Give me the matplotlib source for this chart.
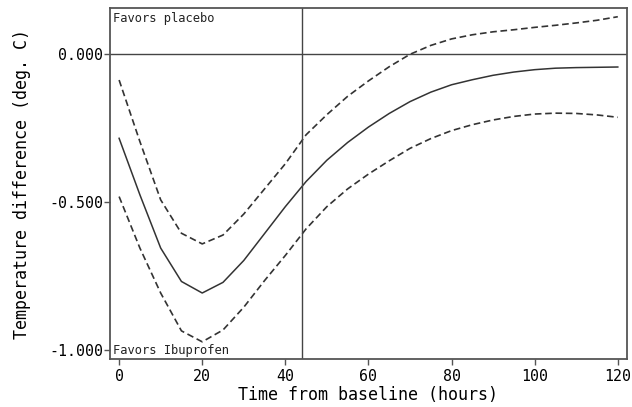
import matplotlib
matplotlib.use("Agg")
import matplotlib.pyplot as plt

hours = [0, 5, 10, 15, 20, 25, 30, 35, 40, 45, 50, 55, 60, 65, 70, 75, 80,
         85, 90, 95, 100, 105, 110, 115, 120]
estimate = [-0.284, -0.475, -0.655, -0.768, -0.807, -0.771, -0.697, -0.606,
            -0.515, -0.430, -0.358, -0.298, -0.246, -0.200, -0.160, -0.128,
            -0.103, -0.086, -0.071, -0.060, -0.052, -0.047, -0.045, -0.044,
            -0.043]
upper = [-0.087, -0.295, -0.492, -0.605, -0.641, -0.611, -0.540, -0.455,
         -0.370, -0.272, -0.204, -0.142, -0.090, -0.042, 0.000, 0.030, 0.052,
         0.066, 0.076, 0.083, 0.091, 0.098, 0.106, 0.115, 0.127]
lower = [-0.481, -0.655, -0.807, -0.935, -0.972, -0.932, -0.855, -0.765,
         -0.680, -0.590, -0.515, -0.455, -0.405, -0.360, -0.318, -0.285,
         -0.258, -0.238, -0.222, -0.210, -0.202, -0.199, -0.200, -0.205,
         -0.213]
xticks = [0, 20, 40, 60, 80, 100, 120]
yticks = [0.0, -0.5, -1.0]
ytick_labels = ["0.000", "-0.500", "-1.000"]
ref_x = 44

plt.rcParams['font.family'] = ['DejaVu Sans Mono']

fig = plt.figure(figsize=(6.32, 4.07), dpi=100)
ax = fig.add_axes([0.174, 0.118, 0.818, 0.862])

line_col = '#333333'
ax.plot(hours, estimate, color=line_col, lw=1.1)
ax.plot(hours, upper, color=line_col, lw=1.2, linestyle=(0, (4.0, 2.2)))
ax.plot(hours, lower, color=line_col, lw=1.2, linestyle=(0, (4.0, 2.2)))

ax.axhline(0, color='#444444', lw=1.0)
ax.axvline(ref_x, color='#444444', lw=1.0)

ax.set_xlim(-2.2, 122.2)
ax.set_ylim(-1.03, 0.156)
ax.set_xticks(xticks)
ax.set_yticks(yticks)
ax.set_yticklabels(ytick_labels)

for s in ax.spines.values():
    s.set_color('#555555')
    s.set_linewidth(1.3)

ax.tick_params(axis='both', direction='out', length=4, width=1.0,
               color='#555555', labelsize=10.7)
ax.tick_params(axis='x', pad=3.5)
ax.tick_params(axis='y', pad=1)

ax.set_xlabel("Time from baseline (hours)", fontsize=12, labelpad=1.5)
ax.set_ylabel("Temperature difference (deg. C)", fontsize=12, labelpad=13)

ax.text(0.006, 0.99, "Favors placebo", transform=ax.transAxes,
        ha='left', va='top', fontsize=8.7, color='#222222')
ax.text(0.006, 0.005, "Favors Ibuprofen", transform=ax.transAxes,
        ha='left', va='bottom', fontsize=8.7, color='#222222')

fig.savefig("out.png", dpi=100)
